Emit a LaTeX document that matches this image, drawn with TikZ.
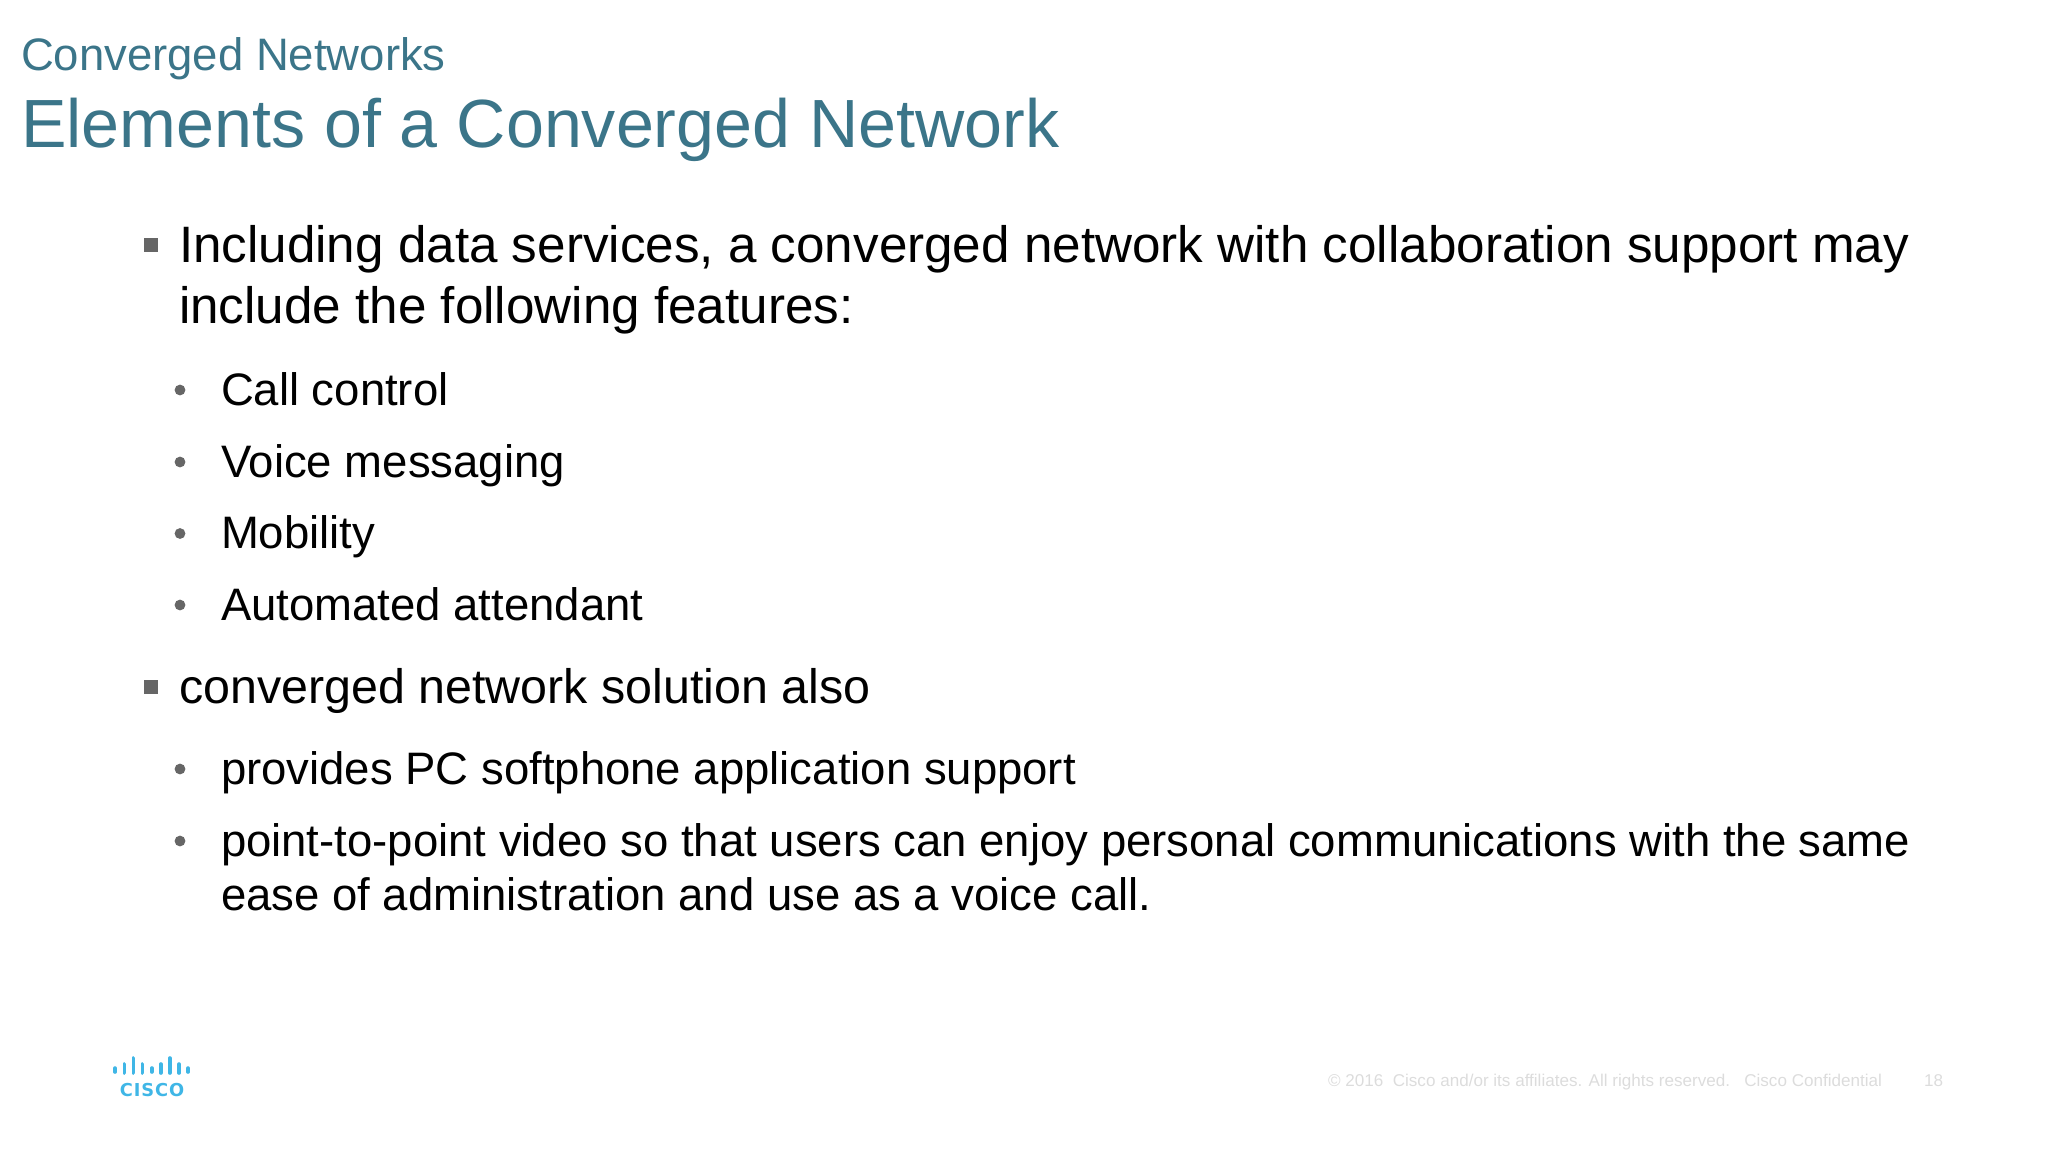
\documentclass[tikz,border=0pt]{standalone}
\usepackage{fontspec}
\setmainfont{Liberation Sans}
\newfontfamily\logofont[LetterSpace=5]{DejaVu Sans}
\definecolor{ciscoteal}{HTML}{3B7589}
\definecolor{ciscoblue}{HTML}{3FB6E6}
\definecolor{bulletgray}{HTML}{666666}
\definecolor{footgray}{HTML}{DCDCDC}
\tikzset{
  txt/.style={anchor=base west, inner sep=0pt, outer sep=0pt},
  subtitle/.style={txt, text=ciscoteal, font=\fontsize{22.75}{26}\selectfont},
  title/.style={txt, text=ciscoteal, font=\fontsize{34.1}{38}\selectfont},
  level one/.style={txt, text=black, font=\fontsize{25.6}{28}\selectfont},
  level two/.style={txt, text=black, font=\fontsize{22.75}{26}\selectfont},
  foot/.style={txt, text=footgray, font=\fontsize{8.54}{10}\selectfont},
  square/.style={rectangle, fill=bulletgray, inner sep=0pt, minimum size=6.6pt},
  dot/.style={circle, fill=bulletgray, inner sep=0pt, minimum size=5.4pt},
  logobar/.style={ciscoblue, line width=1.8pt, line cap=round},
}
\begin{document}
\begin{tikzpicture}[x=0.5pt,y=-0.5pt]
	\useasboundingbox (0,0) rectangle (2048,1152);
	\node[subtitle] (sub) at (21,70) {Converged Networks};
	\node[title] (head) at (21,147) {Elements of a Converged Network};

	\node[square] (sqa) at (151,245) {};
	\node[level one] (inc) at (179,262) {Including data services, a converged network with collaboration support may};
	\node[level one] (inb) at (179,323) {include the following features:};
	\foreach \name/\ypos/\txt in {call/405/Call control, voice/477/Voice messaging, mobil/548.5/Mobility, auto/620/Automated attendant, soft/784/provides PC softphone application support, video/856/point-to-point video so that users can enjoy personal communications with the same}{
		\node[dot] (dot\name) at (180,\ypos-15) {};
		\node[level two] (\name) at (221,\ypos) {\txt};
	}
	\node[level two] (ease) at (221,910) {ease of administration and use as a voice call.};
	\node[square] (sqb) at (151,687) {};
	\node[level one, font=\fontsize{24.2}{28}\selectfont] (conv) at (179,703) {converged network solution also};

	% logo
	\foreach \xpos/\top/\bot in {115/1068/1072, 124.3/1064/1073, 133.3/1058/1073, 142.3/1064/1073, 151.7/1068/1072, 160.7/1064/1073, 169.7/1058/1073, 179/1064/1073, 188/1068/1072}{
		\draw[logobar] (\xpos,\top) -- (\xpos,\bot);
	}
	\node[anchor=base, inner sep=0pt, text=ciscoblue, font=\logofont\bfseries\fontsize{8.9}{11}\selectfont] (logo) at (152,1096) {CISCO};

	\node[foot] (copy) at (1328,1086) {\textcopyright{} 2016\ \ Cisco and/or its affiliates. All rights reserved.\ \ \ Cisco Confidential};
	\node[foot] (page) at (1924,1086) {18};
\end{tikzpicture}
\end{document}
